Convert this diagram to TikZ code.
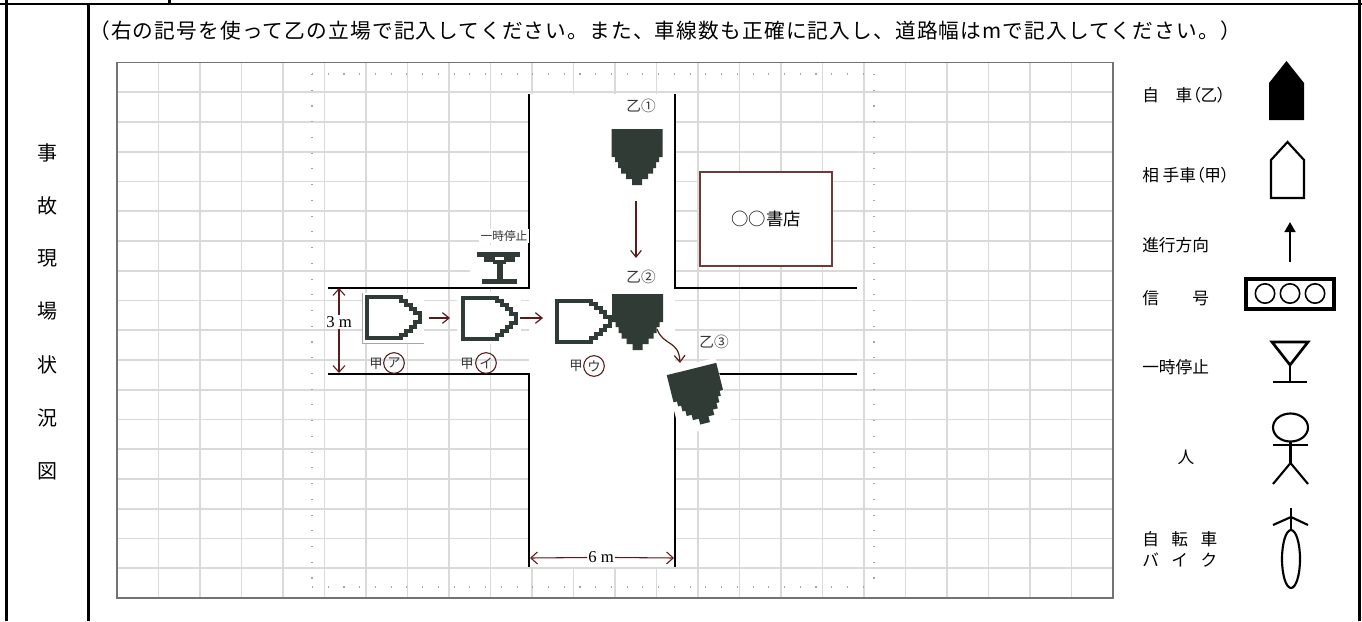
\documentclass[tikz,border=0pt]{standalone}
\usepackage{fontspec}
\setmainfont{Liberation Serif}
\newfontfamily\jp{Noto Sans CJK JP}
\newfontfamily\jphead[LetterSpace=5.7]{Noto Sans CJK JP}
\newfontfamily\jpp[RawFeature=+palt]{Noto Sans CJK JP}
\usetikzlibrary{arrows.meta}
\definecolor{gridc}{HTML}{DADADA}
\definecolor{dotc}{HTML}{A5A5A5}
\definecolor{carc}{HTML}{2F3B34}
\definecolor{arrc}{HTML}{5C1A1A}
\definecolor{shopc}{HTML}{6E3A3A}
\definecolor{lblc}{HTML}{363636}
\tikzset{
  frameline/.style={black, line width=2pt},
  gridline/.style={gridc, line width=1.3pt},
  gridedge/.style={draw=black!55, line width=0.8pt},
  dotline/.style={dotc, line width=0.8pt, dash pattern=on 0.8pt off 11pt},
  roadline/.style={black, line width=1.6pt},
  dimarrow/.style={arrc, line width=0.8pt, -{Straight Barb[length=5pt,width=9pt]}},
  movearrow/.style={arrc, line width=0.9pt, -{Straight Barb[length=5pt,width=8pt]}},
  headtxt/.style={font=\jphead\fontsize{15.5pt}{18pt}\selectfont, anchor=west, inner sep=0pt},
  sidetxt/.style={font=\jp\fontsize{15pt}{18pt}\selectfont, inner sep=0pt},
  legtxt/.style={font=\jpp\fontsize{12.5pt}{15pt}\selectfont, anchor=west, inner sep=0pt},
  legtxtb/.style={font=\jp\fontsize{12.5pt}{15pt}\selectfont, anchor=west, inner sep=0pt},
  carlbl/.style={font=\jp\fontsize{11pt}{13pt}\selectfont, text=lblc, inner sep=0pt},
  kolbl/.style={font=\jp\fontsize{10pt}{12pt}\selectfont, text=lblc, inner sep=0pt},
  circlbl/.style={circle, draw=arrc, line width=0.8pt, minimum size=15.5pt, inner sep=0pt,
    font=\jp\fontsize{10pt}{12pt}\selectfont, text=lblc},
  dimlbl/.style={font=\fontsize{12.5pt}{14pt}\selectfont, fill=white, inner sep=1.2pt},
  stoplbl/.style={font=\jp\fontsize{8.8pt}{10pt}\selectfont, text=lblc, fill=white, inner sep=1pt},
  shopbox/.style={draw=shopc, line width=1pt, fill=white, minimum width=99pt, minimum height=70.5pt,
    inner sep=0pt, font=\jp\fontsize{13pt}{15pt}\selectfont},
  legline/.style={black, line width=1.6pt},
  otsushape/.style={insert path={(-25.5,0) -- (25.5,0) -- (25.5,28) -- (22,28) -- (22,33) -- (19,33) -- (19,39)
      -- (16,39) -- (16,44.5) -- (11,44.5) -- (11,50) -- (5,50) -- (5,56) -- (-5,56)
      -- (-5,50) -- (-11,50) -- (-11,44.5) -- (-16,44.5) -- (-16,39) -- (-19,39) -- (-19,33)
      -- (-22,33) -- (-22,28) -- (-25.5,28) -- cycle}},
  koshape/.style={insert path={(2,-20.5) -- (35.5,-20.5) -- (35.5,-17) -- (40.5,-17) -- (40.5,-13)
      -- (45.5,-13) -- (45.5,-9) -- (50,-9) -- (50,-4.5) -- (55,-4.5) -- (55,4.5) -- (50,4.5)
      -- (50,9) -- (45.5,9) -- (45.5,13) -- (40.5,13) -- (40.5,17) -- (35.5,17) -- (35.5,20.5)
      -- (2,20.5) -- cycle}},
  otsucar/.style={fill=carc, otsushape},
  kocar/.style={draw=carc, line width=3pt, koshape}
}
\begin{document}
\begin{tikzpicture}[x=0.75pt, y=-0.75pt]
\useasboundingbox (0,0) rectangle (1362,621);
\fill[white] (0,0) rectangle (1362,621);

% ---- outer frame
\draw[frameline] (0,4) -- (1362,4);
\draw[frameline] (6.5,0) -- (6.5,621);
\draw[frameline] (1359.5,0) -- (1359.5,621);
\draw[frameline] (88.5,4) -- (88.5,621);
\draw[frameline] (169.5,0) -- (169.5,4);

% ---- header and side labels
\node[headtxt] (head) at (89,31) {（右の記号を使って乙の立場で記入してください。また、車線数も正確に記入し、道路幅はmで記入してください。）};
\node[sidetxt] (s1) at (47,153) {事};
\node[sidetxt] (s2) at (47,206) {故};
\node[sidetxt] (s3) at (47,258) {現};
\node[sidetxt] (s4) at (47,311) {場};
\node[sidetxt] (s5) at (47,365) {状};
\node[sidetxt] (s6) at (47,418) {況};
\node[sidetxt] (s7) at (47,471) {図};

% ---- grid
\foreach \i in {1,...,23} \draw[gridline] ({117+41.5*\i},62.5) -- ({117+41.5*\i},598);
\foreach \j in {1,...,17} \draw[gridline] (117,{62.5+29.75*\j}) -- (1113,{62.5+29.75*\j});
\draw[gridedge] (117,62.5) rectangle (1113,598);
\draw[dotline] (312,74) -- (874,74);
\draw[dotline] (312,587) -- (874,587);
\draw[dotline] (312,74) -- (312,587);
\draw[dotline] (874,74) -- (874,587);

% ---- roads
\fill[white] (529,94) rectangle (675,567);
\draw[roadline] (529,94) -- (529,288) -- (328,288);
\draw[roadline] (328,374) -- (529,374) -- (529,567);
\draw[roadline] (675,94) -- (675,288) -- (857,288);
\draw[roadline] (857,374) -- (675,374) -- (675,567);

% ---- shop
\node[shopbox] (shop) at (766,219) {○○書店};

% ---- stop sign in the plan
\fill[white] (470,245) rectangle (527.5,287);
\fill[carc] (477,252) rectangle (520,256.5);
\fill[carc] (484,256) rectangle (495,261.5);
\fill[carc] (504,256) rectangle (515,261.5);
\fill[carc] (493,260) rectangle (506,264);
\fill[carc] (497,263) rectangle (502.5,281);
\fill[carc] (482,279) rectangle (517,283.5);
\node[stoplbl] (stopl) at (504,236) {一時停止};

% ---- ko cars
\fill[white] (362,293) rectangle (424,343);
\draw[black!35, line width=0.6pt] (362.5,293) -- (362.5,343) -- (424,343);
\path[shift={(365,317.5)}, kocar];
\fill[white] (457,292) rectangle (521,344);
\path[shift={(461,318)}, kocar];
\path[shift={(555,321)}, kocar];

% ---- otsu cars
\path[shift={(637,129)}, otsucar];
\path[shift={(637.5,294)}, otsucar];
\fill[white, shift={(691.5,369)}, rotate=14] (-27,-5) -- (26,-5) -- (26,62) -- (-27,62) -- cycle;
\path[shift={(691.5,369)}, rotate=14, otsucar];

% ---- car labels
\node[carlbl] (o1l) at (641,106) {乙①};
\node[carlbl] (o2l) at (641,277) {乙②};
\node[carlbl] (o3l) at (714,342) {乙③};
\node[kolbl] (k1a) at (376,364) {甲};
\node[circlbl] (k1b) at (394,363) {ア};
\node[kolbl] (k2a) at (467,364) {甲};
\node[circlbl] (k2b) at (486,363) {イ};
\node[kolbl] (k3a) at (576,366) {甲};
\node[circlbl] (k3b) at (594,366) {ウ};

% ---- movement arrows
\coordinate (m1s) at (429,318); \coordinate (m1e) at (450,318);
\coordinate (m2s) at (520,318); \coordinate (m2e) at (543,318);
\coordinate (m3s) at (636,201); \coordinate (m3e) at (636,258);
\coordinate (m4s) at (657,329); \coordinate (m4e) at (680,363);
\draw[movearrow] (m1s) -- (m1e);
\draw[movearrow] (m2s) -- (m2e);
\draw[movearrow] (m3s) -- (m3e);
\draw[movearrow] (m4s) .. controls (663,346) and (679,340) .. (m4e);

% ---- dimensions
\coordinate (d3t) at (339,288); \coordinate (d3b) at (339,373);
\node[dimlbl] (d3) at (339,322) {3 m};
\draw[dimarrow] (d3.north) -- (d3t);
\draw[dimarrow] (d3.south) -- (d3b);
\coordinate (d6l) at (530,558); \coordinate (d6r) at (674,558);
\node[dimlbl, inner sep=0.6pt] (d6) at (601,557.5) {6 m};
\draw[dimarrow] (d6.west) -- (d6l);
\draw[dimarrow] (d6.east) -- (d6r);

% ---- legend
\node[legtxt] (l1) at (1142,95) {自　車（乙）};
\node[legtxt] (l2) at (1142,175) {相 手車（甲）};
\node[legtxt] (l3) at (1142,245) {進行方向};
\node[legtxt] (l4) at (1142,298) {信　　号};
\node[legtxt] (l5) at (1142,367) {一時停止};
\node[legtxt, anchor=center] (l6) at (1186,457) {人};
\node[legtxtb] (l7) at (1142,539) {自\hspace{0.75em}転\hspace{0.75em}車};
\node[legtxtb] (l8) at (1142,560) {バ\hspace{0.75em}イ\hspace{0.75em}ク};

\fill[black] (1269,120) -- (1269,83) -- (1286.5,61) -- (1304,83) -- (1304,120) -- cycle;
\draw[legline, line join=miter] (1271,198) -- (1271,160) -- (1287.5,142) -- (1304,160) -- (1304,198) -- cycle;
\coordinate (la1) at (1290,262); \coordinate (la2) at (1290,222);
\draw[black, line width=2pt, -{Triangle[length=7.5pt,width=8pt]}] (la1) -- (la2);
\draw[black, line width=2.4pt] (1246,279) rectangle (1334,309);
\foreach \cx in {1265,1290,1315} \draw[black, line width=1.2pt] (\cx,293.5) circle[radius=9.7];
\draw[black, line width=2pt, line join=miter] (1272,342) -- (1308,342) -- (1290,365) -- cycle;
\draw[legline] (1290,365) -- (1290,382);
\draw[black, line width=2.2pt] (1273,382) -- (1307,382);
\draw[legline] (1290.5,427.5) ellipse[x radius=17.5, y radius=14];
\draw[legline] (1273,445) -- (1308,445);
\draw[legline] (1290.5,441.5) -- (1290.5,463);
\draw[legline] (1273,484) -- (1290.5,463) -- (1308,484);
\draw[legline] (1291,559) ellipse[x radius=9, y radius=29];
\draw[legline] (1291,508) -- (1291,530);
\draw[legline] (1273,525) -- (1291,517) -- (1308,525);
\end{tikzpicture}
\end{document}
